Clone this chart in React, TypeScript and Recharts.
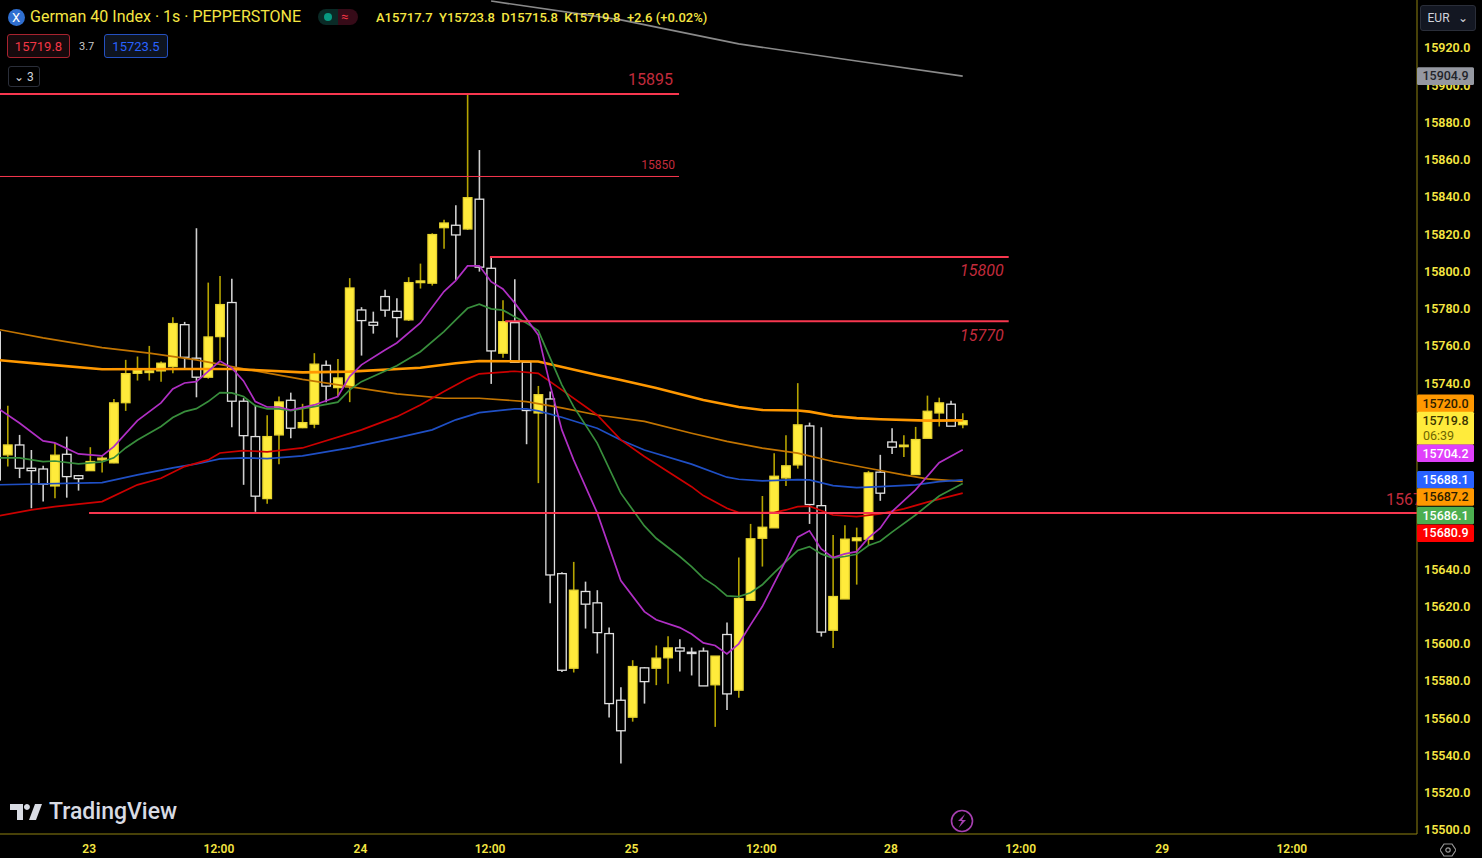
import { ComposedChart, Bar, Line, XAxis, YAxis, ReferenceLine, ReferenceDot } from "recharts"

const W = 1482
const H = 858
const X_MIN = -0.653
const X_MAX = 119.53
const Y_MIN = 15497.86
const Y_MAX = 15945.78

const candleIndex = Array.from({ length: 83 }, (_, k) => k - 1)
const opens = [15767.5, 15701.5, 15706.8, 15694.3, 15693.9, 15684.8, 15701.8, 15690.3, 15693.0, 15698.8, 15697.2, 15729.5, 15745.3, 15745.7, 15746.6, 15748.9, 15771.4, 15753.4, 15743.2, 15765.0, 15783.3, 15730.3, 15711.3, 15678.0, 15712.2, 15730.8, 15716.1, 15718.0, 15749.6, 15737.6, 15738.0, 15779.3, 15772.7, 15786.5, 15778.6, 15774.0, 15794.0, 15793.7, 15823.5, 15824.8, 15822.8, 15838.8, 15801.7, 15756.1, 15772.5, 15751.2, 15724.0, 15731.5, 15637.7, 15586.9, 15628.1, 15622.0, 15605.5, 15569.7, 15560.6, 15587.1, 15586.9, 15592.5, 15597.8, 15595.5, 15596.1, 15578.0, 15605.0, 15575.1, 15623.4, 15656.7, 15662.3, 15689.1, 15696.1, 15717.0, 15674.2, 15607.3, 15624.1, 15655.4, 15656.2, 15692.2, 15708.4, 15705.9, 15690.9, 15710.4, 15724.0, 15728.7, 15717.7]
const highs = [15767.5, 15727.8, 15712.2, 15704.1, 15695.7, 15707.8, 15711.3, 15690.7, 15705.6, 15700.9, 15731.5, 15752.5, 15754.3, 15760.0, 15751.6, 15775.4, 15772.9, 15823.2, 15794.0, 15797.6, 15796.1, 15731.9, 15728.3, 15722.8, 15732.8, 15734.9, 15728.9, 15756.1, 15752.1, 15753.0, 15796.4, 15780.8, 15778.4, 15790.1, 15785.6, 15796.9, 15804.2, 15820.5, 15827.7, 15835.6, 15894.8, 15865.2, 15808.0, 15784.5, 15795.8, 15751.4, 15738.5, 15735.5, 15638.5, 15644.0, 15633.4, 15628.8, 15608.7, 15576.7, 15591.2, 15587.5, 15599.1, 15604.1, 15602.5, 15598.0, 15598.0, 15593.4, 15611.4, 15646.3, 15664.4, 15679.4, 15702.4, 15712.0, 15740.0, 15718.8, 15716.3, 15658.5, 15663.7, 15662.4, 15692.9, 15701.5, 15715.8, 15712.0, 15716.5, 15733.3, 15732.2, 15730.6, 15723.8]
const lows = [15680.0, 15695.2, 15689.0, 15672.8, 15676.4, 15678.2, 15678.5, 15682.3, 15693.0, 15692.0, 15697.0, 15725.1, 15741.4, 15741.4, 15740.7, 15745.3, 15747.6, 15732.4, 15742.4, 15752.5, 15716.3, 15685.4, 15670.9, 15675.2, 15696.5, 15710.4, 15715.8, 15715.8, 15729.8, 15733.1, 15729.8, 15754.8, 15766.6, 15775.6, 15764.5, 15773.4, 15790.8, 15792.4, 15812.2, 15795.4, 15822.3, 15799.9, 15739.6, 15753.7, 15751.0, 15707.2, 15686.3, 15621.8, 15584.8, 15584.6, 15608.2, 15594.8, 15560.4, 15535.7, 15558.2, 15567.9, 15577.8, 15578.5, 15585.1, 15583.0, 15577.4, 15555.4, 15564.4, 15571.1, 15623.4, 15641.5, 15662.3, 15684.7, 15694.1, 15664.4, 15603.9, 15597.7, 15624.1, 15631.8, 15652.6, 15676.8, 15702.0, 15700.4, 15690.9, 15710.4, 15716.7, 15716.9, 15715.8]
const closes = [15688.0, 15706.8, 15694.3, 15693.0, 15685.7, 15701.3, 15689.8, 15688.7, 15697.9, 15699.7, 15729.4, 15745.1, 15746.9, 15746.6, 15750.7, 15772.0, 15753.9, 15743.2, 15764.8, 15782.2, 15730.3, 15711.8, 15679.3, 15711.3, 15729.9, 15715.8, 15718.8, 15750.2, 15738.4, 15742.8, 15791.1, 15773.6, 15771.1, 15779.2, 15775.2, 15794.0, 15794.9, 15819.8, 15826.0, 15819.6, 15839.6, 15802.3, 15757.3, 15773.0, 15751.2, 15725.3, 15733.8, 15637.0, 15585.8, 15628.8, 15621.3, 15606.0, 15567.9, 15553.3, 15587.8, 15579.7, 15592.3, 15597.8, 15596.1, 15594.8, 15577.4, 15593.4, 15573.1, 15624.3, 15656.4, 15662.6, 15690.0, 15695.6, 15717.6, 15674.8, 15606.3, 15625.4, 15656.2, 15656.9, 15691.8, 15680.9, 15705.6, 15706.7, 15709.7, 15724.9, 15729.4, 15716.9, 15719.8]

const magentaIdx = [-1, 1, 3, 4, 6, 8, 9, 11, 13, 14, 15, 16, 18, 19, 20, 21, 22, 23, 24, 26, 28, 29, 30, 32, 33, 35, 37, 38, 39, 40, 41, 42, 43, 45, 46, 47, 48, 50, 52, 54, 55, 57, 58, 59, 60, 61, 62, 63, 64, 67, 68, 69, 70, 71, 72, 73, 74, 75, 77, 79, 81]
const magentaVals = [15727.2, 15718.6, 15709, 15707.9, 15702, 15700.9, 15705.9, 15719.9, 15729.4, 15736.9, 15740.1, 15740.8, 15751.9, 15748.2, 15741.2, 15730.1, 15727.2, 15727.2, 15725.6, 15728.3, 15732.8, 15743.5, 15749.8, 15757.8, 15761.6, 15772.3, 15789.2, 15795.1, 15803, 15803, 15794.5, 15790.6, 15783.1, 15765.9, 15739.1, 15714.9, 15698.8, 15670.3, 15634, 15617.3, 15612.9, 15608.7, 15605.3, 15600.5, 15599.1, 15594.6, 15600, 15610.2, 15620, 15657.3, 15660.7, 15651, 15646.3, 15648.3, 15649.5, 15656.9, 15662.1, 15671, 15682.7, 15697.3, 15704.2]

const greenIdx = [-1, 1, 3, 4, 6, 8, 9, 10, 11, 13, 14, 15, 16, 17, 18, 19, 20, 21, 22, 23, 24, 26, 28, 29, 30, 33, 35, 37, 38, 39, 40, 41, 42, 43, 44, 45, 46, 47, 48, 50, 52, 54, 55, 57, 58, 59, 60, 61, 62, 63, 64, 65, 66, 67, 68, 69, 70, 71, 72, 73, 74, 75, 77, 79, 81]
const greenVals = [15699.9, 15699.9, 15697.9, 15698.2, 15696.6, 15697.7, 15699.9, 15705.2, 15709.5, 15716.7, 15721.5, 15724.7, 15726.3, 15730.1, 15734.9, 15734.8, 15732.8, 15727.9, 15726.2, 15726.2, 15725.3, 15727.4, 15729.8, 15736.4, 15740.8, 15749.3, 15756.9, 15767.7, 15774, 15780.2, 15782.4, 15779.9, 15779.2, 15775.7, 15772.3, 15768.2, 15753.6, 15739.1, 15727.4, 15707.8, 15680.9, 15663.3, 15656.7, 15646.9, 15641.5, 15635.3, 15631.1, 15625.7, 15625.4, 15627.4, 15631.7, 15638.1, 15644.2, 15650.1, 15652.2, 15648.3, 15646, 15646.9, 15648.1, 15652.8, 15655.1, 15660, 15669.2, 15679.4, 15686.1]

const blueIdx = [-1, 8, 11, 14, 16, 18, 20, 22, 25, 29, 33, 36, 38, 40, 43, 44, 45, 47, 50, 52, 54, 58, 61, 62, 64, 67, 68, 70, 72, 74, 77, 79, 81]
const blueVals = [15685.4, 15686.6, 15690.7, 15694.5, 15696.6, 15699.3, 15699.9, 15699.5, 15700.9, 15705.2, 15710.6, 15714.9, 15720.3, 15724.2, 15726.2, 15726.2, 15725.1, 15721.7, 15715.8, 15709.5, 15704.1, 15696.5, 15689.5, 15688.4, 15687.5, 15688.2, 15688, 15685, 15683.9, 15684.4, 15685.4, 15687.1, 15688.1]

const redIdx = [-1, 2, 4, 8, 11, 13, 15, 17, 18, 20, 22, 25, 30, 33, 35, 37, 39, 40, 43, 45, 47, 50, 52, 54, 58, 59, 61, 62, 65, 66, 67, 68, 70, 72, 74, 76, 78, 79, 81]
const redVals = [15668.4, 15671.9, 15673.7, 15676.4, 15685.4, 15688.9, 15695.2, 15698.8, 15702.5, 15703.8, 15703.1, 15705.2, 15714.9, 15722, 15728.3, 15735.5, 15742.3, 15745, 15746.4, 15745.3, 15736.4, 15722.9, 15709.5, 15700.6, 15684.4, 15679.6, 15672.8, 15670.5, 15670.5, 15671.9, 15673.7, 15673.9, 15669.2, 15668.3, 15669.8, 15672.5, 15676.1, 15677.7, 15680.9]

const orangeIdx = [-1, 3, 8, 12, 16, 19, 25, 29, 33, 37, 40, 44, 47, 50, 54, 58, 61, 64, 67, 70, 73, 76, 78, 81]
const orangeVals = [15769.1, 15764.3, 15759.1, 15756.1, 15752.5, 15748.9, 15742, 15738.1, 15734.2, 15731.9, 15731.9, 15730.1, 15726.7, 15722.9, 15719.5, 15713.1, 15708.7, 15705.1, 15702.4, 15697.9, 15694.3, 15690.7, 15688.6, 15687.2]

const emaIdx = [-1, 3, 8, 16, 19, 25, 29, 35, 38, 40, 45, 50, 52, 55, 59, 62, 64, 67, 68, 70, 72, 74, 78, 81]
const emaVals = [15752.5, 15750.2, 15747.5, 15747.6, 15747.6, 15745.8, 15746.2, 15748.3, 15750.7, 15751.9, 15751.6, 15744.4, 15741.7, 15737.4, 15731, 15727.2, 15725.6, 15725.3, 15724.7, 15722.4, 15721.2, 15720.6, 15719.9, 15720]

const greyIdx = [41, 52, 62, 72, 81]
const greyVals = [15945.2, 15935.1, 15922.2, 15913, 15904.9]

// 15660, 15680, 15700, 15720 sit under the price tags in the reference
const priceTicks = [15500, 15520, 15540, 15560, 15580, 15600, 15620, 15640, 15740, 15760, 15780, 15800, 15820, 15840, 15860, 15880, 15920]
const coveredTick = 15900
const timeTicks = [7, 18, 30, 41, 53, 64, 75, 86, 98, 109]
const timeLabels = ["23", "12:00", "24", "12:00", "25", "12:00", "28", "12:00", "29", "12:00"]

const levelValues = [15895.3, 15851, 15807.8, 15773.2, 15670.3]
const levelStarts = [X_MIN, X_MIN, 40.9, 42.2, 6.9]
const levelEnds = [56.94, 56.94, 84.9, 84.9, X_MAX]
const levelLabels = ["15895", "15850", "15800", "15770", "15670"]

const tagValues = [15904.9, 15720.0, 15719.8, 15704.2, 15688.1, 15687.2, 15686.1, 15680.9]
const tagFills = ["#9598a1", "#ff9800", "#ffeb3b", "#e040fb", "#2962ff", "#ff9800", "#4caf50", "#ff0000"]
const tagInks = ["#22242a", "#2a1c00", "#3a3400", "#ffffff", "#ffffff", "#2a1c00", "#ffffff", "#ffffff"]

const lineColumns: [string, number[], number[]][] = [
  ["orange", orangeIdx, orangeVals],
  ["ema", emaIdx, emaVals],
  ["magenta", magentaIdx, magentaVals],
  ["green", greenIdx, greenVals],
  ["blue", blueIdx, blueVals],
  ["red", redIdx, redVals],
  ["grey", greyIdx, greyVals],
]

const rows = candleIndex.map((i, k) => {
  const row: any = { i, range: [lows[k], highs[k]], open: opens[k], close: closes[k] }
  for (const [name, idx, vals] of lineColumns) {
    const at = idx.indexOf(i)
    if (at >= 0) row[name] = vals[at]
  }
  return row
})

const YELLOW = "#f5e642"
const AXIS = "#8f8210"
const sans = "Roboto, 'Noto Sans', sans-serif"

function Candle(props: any) {
  const { x, y, width, height, payload } = props
  const [low, high] = payload.range
  const unit = height / (high - low)
  const up = payload.close >= payload.open
  const top = y + (high - Math.max(payload.open, payload.close)) * unit
  const bottom = y + (high - Math.min(payload.open, payload.close)) * unit
  const mid = x + width / 2
  const wick = up ? "#b5a400" : "#cfcfcf"
  return (
    <g>
      <line x1={mid} x2={mid} y1={y} y2={top} stroke={wick} strokeWidth={1.6} />
      <line x1={mid} x2={mid} y1={bottom} y2={y + height} stroke={wick} strokeWidth={1.6} />
      <rect
        x={mid - 4.3}
        y={top}
        width={8.6}
        height={Math.max(bottom - top, 1)}
        fill={up ? "#ffeb3b" : "none"}
        stroke={up ? "#e8d530" : "#e0e0e0"}
        strokeWidth={1.3}
      />
    </g>
  )
}

function PriceTag(props: any, k: number) {
  const { cx, cy } = props
  const nudge = [0, -17, 0, 3.5, 0, 15.5, 32, 40][k]
  const mid = cy + nudge
  const tall = k === 2
  return (
    <g>
      <rect
        x={cx}
        y={tall ? mid - 9 : mid - 8.8}
        width={57}
        height={tall ? 33 : 17.6}
        rx={1.5}
        fill={tagFills[k]}
      />
      <text
        x={cx + 28.5}
        y={mid + 4.3}
        textAnchor="middle"
        fontFamily={sans}
        fontSize={12.5}
        fontWeight={500}
        fill={tagInks[k]}
      >
        {tagValues[k].toFixed(1)}
      </text>
      {tall && (
        <text x={cx + 6} y={mid + 19} fontFamily={sans} fontSize={12.5} fill="#6f6600">
          06:39
        </text>
      )}
    </g>
  )
}

function LevelText(props: any, k: number) {
  const { cx, cy } = props
  const dy = [-14, -12.5, 14, 14, -13][k]
  const inset = [6, 4, 5, 5, -14][k]
  const cut = k === 4
  return (
    <g>
      {cut && (
        <clipPath id="plot-edge">
          <rect x={cx - 60} y={cy - 40} width={60} height={80} />
        </clipPath>
      )}
      <text
        x={cx - inset}
        y={cy + dy + 5.5}
        textAnchor="end"
        fontFamily={sans}
        fontSize={k === 1 ? 12 : 16}
        fontStyle={k === 2 || k === 3 ? "italic" : "normal"}
        fill="#c22b3c"
        clipPath={cut ? "url(#plot-edge)" : undefined}
      >
        {levelLabels[k]}
      </text>
    </g>
  )
}

function Label({ left, top, size, color, children, weight }: any) {
  return (
    <div
      style={{
        position: "absolute",
        left,
        top,
        fontFamily: sans,
        fontSize: size,
        color,
        fontWeight: weight ?? 400,
        lineHeight: 1,
        whiteSpace: "nowrap",
      }}
    >
      {children}
    </div>
  )
}

function Box({ left, top, width, height, border, bg, color, size, children }: any) {
  return (
    <div
      style={{
        position: "absolute",
        left,
        top,
        width,
        height,
        boxSizing: "border-box",
        border: `1px solid ${border}`,
        borderRadius: 3,
        background: bg,
        color,
        fontFamily: sans,
        fontSize: size,
        display: "flex",
        alignItems: "center",
        justifyContent: "center",
      }}
    >
      {children}
    </div>
  )
}

export default function App() {
  return (
    <div style={{ position: "absolute", left: 0, top: 0, width: W, height: H, background: "#000", overflow: "hidden" }}>
      <ComposedChart width={W} height={H} data={rows} margin={{ top: 0, right: 0, bottom: 0, left: 0 }}>
        <XAxis
          dataKey="i"
          type="number"
          domain={[X_MIN, X_MAX]}
          allowDataOverflow
          ticks={timeTicks}
          interval={0}
          height={24}
          tickLine={false}
          tickMargin={4}
          axisLine={{ stroke: AXIS }}
          tick={{ fill: YELLOW, fontSize: 12, fontFamily: sans, fontWeight: 600, dx: -1 }}
          tickFormatter={(v: number) => timeLabels[timeTicks.indexOf(v)]}
        />
        <YAxis
          orientation="right"
          type="number"
          domain={[Y_MIN, Y_MAX]}
          allowDataOverflow
          ticks={priceTicks}
          interval={0}
          width={65}
          tickLine={false}
          axisLine={{ stroke: AXIS }}
          tick={{ fill: YELLOW, fontSize: 12.5, fontFamily: sans, fontWeight: 600, dx: -1 }}
          tickFormatter={(v: number) => v.toFixed(1)}
        />
        <Line dataKey="grey" stroke="#8a8a8a" strokeWidth={1.6} dot={false} connectNulls isAnimationActive={false} />
        <Line dataKey="orange" stroke="#c27400" strokeWidth={1.7} dot={false} connectNulls isAnimationActive={false} />
        <Line dataKey="ema" stroke="#ff9800" strokeWidth={2.6} dot={false} connectNulls isAnimationActive={false} />
        <Line dataKey="blue" stroke="#1f4fc4" strokeWidth={1.7} dot={false} connectNulls isAnimationActive={false} />
        <Line dataKey="red" stroke="#cc0000" strokeWidth={1.7} dot={false} connectNulls isAnimationActive={false} />
        <Line dataKey="green" stroke="#388e3c" strokeWidth={1.7} dot={false} connectNulls isAnimationActive={false} />
        <Line dataKey="magenta" stroke="#b02fc4" strokeWidth={1.7} dot={false} connectNulls isAnimationActive={false} />
        <Bar dataKey="range" barSize={10} shape={Candle} isAnimationActive={false} />
        {levelValues.map((v, k) => (
          <ReferenceLine
            key={v}
            segment={[
              { x: levelStarts[k], y: v },
              { x: levelEnds[k], y: v },
            ]}
            stroke="#f7374f"
            strokeWidth={k === 1 ? 1 : 2}
          />
        ))}
        {levelValues.map((v, k) => (
          <ReferenceDot
            key={v}
            x={levelEnds[k]}
            y={v}
            r={0}
            ifOverflow="visible"
            shape={(p: any) => LevelText(p, k)}
          />
        ))}
        <ReferenceDot
          x={X_MAX}
          y={coveredTick}
          r={0}
          ifOverflow="visible"
          shape={(p: any) => (
            <text x={p.cx + 7} y={p.cy + 4.5} fontFamily={sans} fontSize={12.5} fontWeight={600} fill={YELLOW}>
              {coveredTick.toFixed(1)}
            </text>
          )}
        />
        {tagValues.map((v, k) => (
          <ReferenceDot key={v} x={X_MAX} y={v} r={0} ifOverflow="visible" shape={(p: any) => PriceTag(p, k)} />
        ))}
      </ComposedChart>

      {/* header strip */}
      <div
        style={{
          position: "absolute",
          left: 7.5,
          top: 8.5,
          width: 17,
          height: 17,
          borderRadius: "50%",
          background: "#2f6fd0",
          color: "#fff",
          fontFamily: sans,
          fontSize: 13,
          textAlign: "center",
          lineHeight: "17px",
        }}
      >
        X
      </div>
      <Label left={30} top={9} size={16} color={YELLOW}>
        German 40 Index · 1s · PEPPERSTONE
      </Label>
      <div style={{ position: "absolute", left: 318, top: 9, width: 20, height: 16, background: "#0a2a26", borderRadius: "8px 0 0 8px" }}>
        <div style={{ position: "absolute", left: 6, top: 4, width: 8, height: 8, borderRadius: "50%", background: "#089981" }} />
      </div>
      <div style={{ position: "absolute", left: 338, top: 9, width: 20, height: 16, background: "#360b18", borderRadius: "0 8px 8px 0", color: "#f23645", fontSize: 13, lineHeight: "15px", fontFamily: sans, textIndent: 3 }}>
        ≈
      </div>
      <Label left={376} top={11} size={13} color={YELLOW} weight={500}>
        A15717.7&nbsp; Y15723.8&nbsp; D15715.8&nbsp; K15719.8&nbsp; +2.6 (+0.02%)
      </Label>
      <Box left={7} top={34} width={63} height={24} border="#a8232f" bg="#170a0d" color="#f23645" size={13}>
        15719.8
      </Box>
      <Label left={79} top={41} size={11} color="#c8c8c8">
        3.7
      </Label>
      <Box left={104} top={34} width={64} height={24} border="#2450c0" bg="#0e1420" color="#2962ff" size={13}>
        15723.5
      </Box>
      <Box left={8} top={66} width={32} height={21} border="#2a2e39" bg="#000" color="#d1d4dc" size={12}>
        ⌄&nbsp;3
      </Box>
      <Box left={1420} top={5} width={56} height={26} border="#2a2e39" bg="#131722" color="#d1d4dc" size={12}>
        EUR&nbsp;&nbsp;&nbsp;⌄
      </Box>

      {/* watermark and small icons */}
      <svg style={{ position: "absolute", left: 10, top: 804 }} width={32} height={18} viewBox="0 0 32 18">
        <path d="M0 0h13v16H7V6H0z M17 0a3 3 0 1 1-.1 0z M25 0h7l-6 16h-7z" fill="#d8dbe3" />
      </svg>
      <Label left={49} top={800} size={23} color="#d8dbe3" weight={500}>
        TradingView
      </Label>
      <svg style={{ position: "absolute", left: 950, top: 809 }} width={24} height={24} viewBox="0 0 24 24">
        <circle cx={12} cy={12} r={10.5} fill="#000" stroke="#a63fb0" strokeWidth={1.6} />
        <path d="M15 5l-7 7h4l-3.500 7 7.500-8h-4z" fill="#a63fb0" />
      </svg>
      <svg style={{ position: "absolute", left: 1440, top: 842 }} width={16} height={16} viewBox="0 0 16 16">
        <path d="M4 2h8l4 6-4 6H4L0 8z" fill="none" stroke="#9a9a9a" strokeWidth={1.2} />
        <circle cx={8} cy={8} r={2.2} fill="none" stroke="#9a9a9a" strokeWidth={1.2} />
      </svg>
    </div>
  )
}
